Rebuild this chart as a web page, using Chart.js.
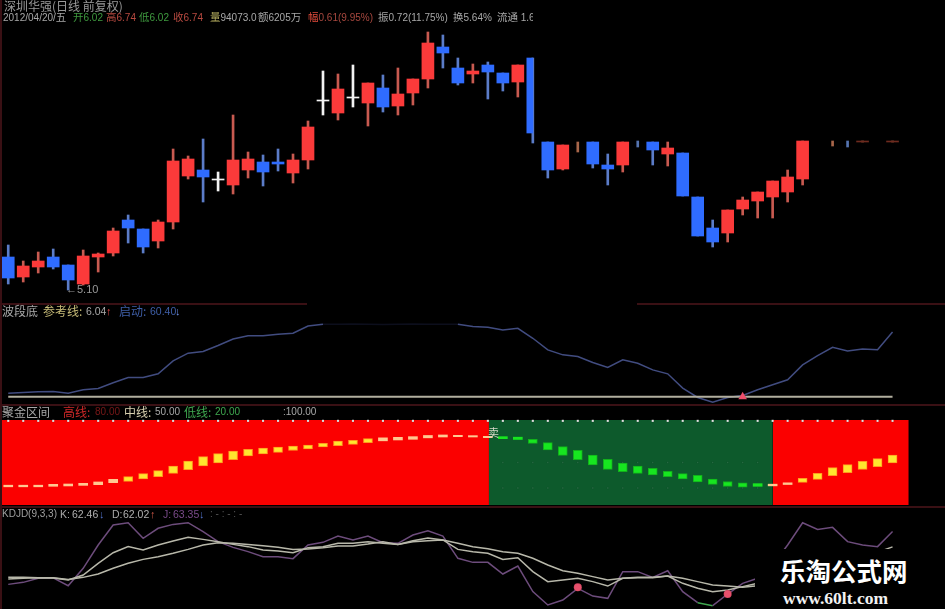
<!DOCTYPE html>
<html>
<head>
<meta charset="utf-8">
<title>深圳华强</title>
<script src="https://cdn.jsdelivr.net/npm/chart.js@4/dist/chart.umd.js"></script>
<style>
    html, body { margin: 0; padding: 0; background: #000; width: 945px; height: 609px; overflow: hidden; }
    #stage { position: relative; width: 945px; height: 609px; filter: blur(0.55px); font-family: "Liberation Sans", "Noto Sans CJK SC", sans-serif; font-size: 10px; color: #a8a8a8; }
    canvas { position: absolute; left: 0; display: block; }
    #priceChart { top: 0; }
    #waveChart { top: 305px; }
    #goldChart { top: 415px; }
    #kdjChart { top: 507px; }
    .rule { position: absolute; background: #3a1014; height: 2px; }
    .t { position: absolute; white-space: nowrap; line-height: 14px; z-index: 3; }
    .cn { font-family: "Noto Sans CJK SC", sans-serif; font-size: 12px; }
    .s { font-family: "Noto Sans CJK SC", sans-serif; font-size: 10.5px; }
    #mark { position: absolute; left: 755px; top: 549px; width: 190px; height: 60px; background: #000; z-index: 4; }
    #mark .name { position: absolute; left: 25px; top: 5px; font: bold 25.5px/32px "Noto Sans CJK SC", sans-serif; color: #fff; white-space: nowrap; }
    #mark .url { position: absolute; left: 28px; top: 39px; font: bold 17.5px/20px "Liberation Serif", serif; color: #f2f2f2; white-space: nowrap; }
</style>
</head>
<body>
<div id="stage">
    <canvas id="priceChart" width="945" height="305"></canvas>
    <canvas id="waveChart" width="945" height="99"></canvas>
    <canvas id="goldChart" width="945" height="95"></canvas>
    <canvas id="kdjChart" width="945" height="100"></canvas>

    <div class="rule" style="left:0;top:0;width:2px;height:609px"></div>
    <div class="rule" style="left:0;top:303px;width:307px"></div>
    <div class="rule" style="left:637px;top:303px;width:308px"></div>
    <div class="rule" style="left:0;top:404px;width:945px"></div>
    <div class="rule" style="left:0;top:506px;width:945px"></div>

    <span class="t cn" style="left:4px;top:-1px;color:#9a9a9a">深圳华强(日线 前复权)</span>
    <span class="t" style="left:3px;top:10px">2012/04/20/<span class="s">五</span></span>
    <span class="t" style="left:73px;top:10px;color:#3f9a3f"><span class="s">开</span>6.02</span>
    <span class="t" style="left:106px;top:10px;color:#b84a40"><span class="s">高</span>6.74</span>
    <span class="t" style="left:139px;top:10px;color:#3f9a3f"><span class="s">低</span>6.02</span>
    <span class="t" style="left:173px;top:10px;color:#b84a40"><span class="s">收</span>6.74</span>
    <span class="t" style="left:210px;top:10px"><span class="s" style="color:#b8b060">量</span>94073.0</span>
    <span class="t" style="left:258px;top:10px"><span class="s">额</span>6205<span class="s">万</span></span>
    <span class="t" style="left:308px;top:10px;color:#a8483f"><span class="s" style="color:#e04a3a">幅</span>0.61(9.95%)</span>
    <span class="t" style="left:378px;top:10px"><span class="s">振</span>0.72(11.75%)</span>
    <span class="t" style="left:453px;top:10px"><span class="s">换</span>5.64%</span>
    <span class="t" style="left:497px;top:10px;width:36px;overflow:hidden"><span class="s">流通</span> 1.6</span>
    <span class="t" style="left:66px;top:282px;color:#999;font-size:11px">←5.10</span>

    <span class="t cn" style="left:2px;top:304px;color:#a8a8a8">波段底</span>
    <span class="t cn" style="left:43px;top:304px;color:#c8bc78">参考线:</span>
    <span class="t" style="left:86px;top:304px;color:#a8a8a8;font-size:10.5px">6.04</span>
    <span class="t" style="left:106px;top:304px;color:#e04848;font-size:11px">↑</span>
    <span class="t cn" style="left:119px;top:304px;color:#3f5fa8">启动:</span>
    <span class="t" style="left:150px;top:304px;color:#3f5fa8;font-size:10.5px">60.40</span>
    <span class="t" style="left:175px;top:304px;color:#6f90e8;font-size:11px">↓</span>

    <span class="t cn" style="left:2px;top:405px;color:#a8a8a8">聚金区间</span>
    <span class="t cn" style="left:63px;top:405px;color:#d02828">高线:</span>
    <span class="t" style="left:95px;top:405px;color:#7a1818">80.00</span>
    <span class="t cn" style="left:124px;top:405px;color:#d8d0b0">中线:</span>
    <span class="t" style="left:155px;top:405px;color:#a8a8a8">50.00</span>
    <span class="t cn" style="left:184px;top:405px;color:#3fa84f">低线:</span>
    <span class="t" style="left:215px;top:405px;color:#3fa84f">20.00</span>
    <span class="t" style="left:283px;top:405px;color:#a8a8a8">:100.00</span>
    <span class="t cn" style="left:488px;top:425px;color:#d8d8c8;font-size:11px">卖</span>

    <span class="t" style="left:2px;top:507px;color:#a0a0a0">KDJD(9,3,3)</span>
    <span class="t" style="left:60px;top:507px;color:#a8a8a8;font-size:10.5px">K:</span>
    <span class="t" style="left:72px;top:507px;color:#b0b0b0;font-size:10.5px">62.46</span>
    <span class="t" style="left:99px;top:507px;color:#5070c8;font-size:11px">↓</span>
    <span class="t" style="left:112px;top:507px;color:#a8a8a8;font-size:10.5px">D:</span>
    <span class="t" style="left:123px;top:507px;color:#b0b0b0;font-size:10.5px">62.02</span>
    <span class="t" style="left:150px;top:507px;color:#d05848;font-size:11px">↑</span>
    <span class="t" style="left:163px;top:507px;color:#7a4a8a;font-size:10.5px">J:</span>
    <span class="t" style="left:173px;top:507px;color:#7a4a8a;font-size:10.5px">63.35</span>
    <span class="t" style="left:199px;top:507px;color:#5070c8;font-size:11px">↓</span>
    <span class="t" style="left:210px;top:507px;color:#555">: - : - : -</span>

    <div id="mark">
        <span class="name">乐淘公式网</span>
        <span class="url">www.60lt.com</span>
    </div>
</div>

<script>
// Daily candles, one slot per trading day
const opens = [5.58,5.38,5.48,5.58,5.50,5.31,5.58,5.62,5.95,5.86,5.74,5.93,6.39,6.45,6.36,6.30,6.45,6.53,6.53,6.42,6.55,7.15,7.02,7.18,7.12,7.27,7.09,7.22,7.36,7.68,7.47,7.41,7.50,7.42,7.33,7.57,6.73,6.46,null,6.73,6.50,6.50,null,6.73,6.61,6.62,6.18,5.87,5.82,6.06,6.14,6.18,6.23,6.36,null,null,null,6.73,null,6.73];
const closes = [5.37,5.49,5.54,5.48,5.35,5.59,5.61,5.84,5.87,5.68,5.93,6.54,6.56,6.38,6.35,6.55,6.56,6.43,6.51,6.55,6.88,7.14,7.26,7.17,7.32,7.08,7.21,7.36,7.72,7.62,7.32,7.44,7.43,7.32,7.50,6.82,6.45,6.70,null,6.51,6.46,6.73,null,6.65,6.67,6.19,5.79,5.73,6.05,6.15,6.23,6.34,6.38,6.74,null,null,null,6.74,null,6.74];
const highs = [5.70,5.54,5.63,5.66,5.50,5.65,5.62,5.87,6.00,5.86,5.95,6.66,6.59,6.76,6.43,7.00,6.63,6.60,6.66,6.61,6.94,7.44,7.41,7.50,7.32,7.40,7.47,7.36,7.83,7.80,7.57,7.51,7.53,7.42,7.50,7.57,6.73,6.70,6.73,6.73,6.61,6.73,6.74,6.73,6.73,6.62,6.18,5.95,6.05,6.18,6.23,6.34,6.45,6.74,null,6.74,6.74,6.74,null,6.74];
const lows = [5.31,5.33,5.42,5.46,5.25,5.30,5.43,5.59,5.72,5.62,5.67,5.86,6.36,6.13,6.24,6.21,6.37,6.29,6.44,6.32,6.46,7.00,6.95,7.08,6.89,7.03,7.00,7.10,7.27,7.47,7.30,7.32,7.16,7.24,7.18,6.72,6.37,6.45,6.63,6.47,6.30,6.43,6.68,6.50,6.49,6.19,5.79,5.68,5.73,6.00,5.97,5.97,6.13,6.30,null,6.69,6.68,6.73,null,6.73];
const dojiDays = [14, 21, 23];
const faintDays = [38, 42, 55, 56, 57, 59];
const fallingTicks = [42, 56];
const halfBodyDays = [35];

// 波段底 pane
const startLine = [9.1,9.7,10.2,10.5,9.1,11.9,13.0,17.8,22.2,22.2,25.3,36.2,42.6,44.0,49.0,54.5,57.3,57.3,58.5,59.3,65.4,66.8,66.9,67.0,66.8,66.7,66.9,67.0,66.8,66.8,66.8,64.9,64.3,62.1,63.5,55.1,45.4,41.2,39.8,34.8,30.6,37.0,34.2,28.6,25.3,13.3,5.5,1.6,5.5,7.2,11.9,16.1,20.3,32.8,40.6,47.6,44.5,46.2,45.4,60.4];
const referenceLine = 6.04;
const waveSignals = [49];

// 聚金区间 pane
const zoneStarts = [-0.55, 32.07, 51.01];
const zoneEnds = [32.07, 51.01, 60.08];
const goldLow = [21.4,21.4,21.4,22.0,22.4,23.1,23.9,26.3,27.8,30.6,33.3,37.3,41.6,45.9,49.4,53.3,57.6,60.0,62.0,64.1,66.1,68.4,69.8,71.4,73.3,75.5,76.5,77.3,79.0,80.0,80.4,80.0,79.2,78.0,77.1,72.5,64.7,58.4,53.3,47.1,42.0,39.2,37.3,35.3,33.3,30.6,27.1,24.3,21.8,21.0,22.0,22.5,24.1,26.7,30.2,34.5,38.0,42.0,45.1,49.4];
const goldHigh = [23.3,23.3,23.3,24.3,24.7,25.5,27.1,30.2,33.3,36.9,40.4,45.9,51.8,56.9,60.4,63.5,65.5,67.1,68.2,69.2,70.4,72.7,75.3,76.1,78.0,79.0,79.6,80.4,81.8,82.4,82.0,81.6,80.8,80.4,79.8,77.3,73.3,68.6,64.3,58.8,53.7,49.4,45.9,43.1,39.6,36.9,35.0,30.6,27.6,26.1,25.1,24.5,26.1,31.4,37.3,43.9,47.5,51.4,54.5,58.8];
const topLevel = 100;
const dotLevel = 99;
const midLevel = 50;
const lowLevel = 20;
const greenDays = [33,34,35,36,37,38,39,40,41,42,43,44,45,46,47,48,49,50];

// KDJ pane
const kLine = [23.5,24.1,24.6,24.4,22.7,26.9,36.7,45.6,50.7,47.9,52.1,55.4,58.5,56.8,54.9,52.6,50.7,47.9,47.0,45.6,49.8,50.7,53.5,53.5,54.9,53.5,52.6,55.7,58.0,56.3,48.4,46.5,45.1,40.0,41.4,29.7,21.3,22.7,24.1,21.3,17.6,24.1,24.9,24.9,26.0,19.9,15.7,12.9,14.3,17.1,19.9,24.1,32.5,42.0,45.0,46.0,46.0,46.0,46.0,50.5];
const dLine = [24.9,24.9,24.6,24.6,23.2,24.9,27.7,32.5,36.7,40.0,42.3,45.1,48.4,52.1,54.0,53.5,52.6,51.5,50.1,48.4,48.7,49.8,51.2,51.2,52.9,54.9,52.6,54.9,55.7,56.3,53.5,50.7,49.0,46.5,45.1,40.9,35.3,30.5,28.3,25.5,22.7,24.1,24.6,24.6,26.0,24.1,21.3,18.5,17.6,16.5,17.9,19.3,22.7,28.3,33.9,38.1,40.9,42.3,44.0,47.0];
const jLine = [19.0,20.7,24.1,24.4,17.9,32.5,52.1,68.9,70.8,57.7,66.1,69.4,70.8,63.3,54.9,50.1,46.5,42.3,42.3,40.6,52.1,54.3,59.6,56.3,59.6,54.0,53.5,60.5,64.1,59.6,40.9,37.5,37.5,27.7,34.4,12.9,1.7,5.9,15.7,9.2,7.3,29.7,29.7,24.9,30.5,12.9,3.6,1.1,10.9,19.9,24.1,35.3,52.1,70.8,65.2,66.9,54.9,52.1,50.7,63.35];
const kdjSignals = [38, 48];
const kdjSignalValues = [16.5, 10.9];

const days = opens.map((_, i) => i);

function pairs(xs, ys) {
    return xs.map((x, i) => ({ x: x, y: ys[i] }));
}

function ranges(from, to) {
    return days
        .filter(i => from[i] !== null && to[i] !== null)
        .map(i => ({ x: i, y: [from[i], to[i]] }));
}

function makeChart(id, datasets, yMin, yMax, padding) {
    return new Chart(document.getElementById(id).getContext('2d'), {
        type: 'bar',
        data: { datasets: datasets },
        options: {
            responsive: false,
            animation: false,
            devicePixelRatio: 1,
            layout: { autoPadding: false, padding: padding || 0 },
            plugins: { legend: { display: false }, tooltip: { enabled: false } },
            scales: {
                x: { type: 'linear', offset: false, min: -0.55, max: 62.5, display: false },
                y: { min: yMin, max: yMax, display: false }
            }
        }
    });
}

function bodyColor(ctx) {
    const i = ctx.raw.x;
    if (dojiDays.includes(i)) return '#f2f2f2';
    if (faintDays.includes(i)) return '#6e2a1e';
    return closes[i] > opens[i] ? '#fb3a3a' : '#2f6cff';
}

function wickColor(ctx) {
    const i = ctx.raw.x;
    if (dojiDays.includes(i)) return '#f2f2f2';
    if (fallingTicks.includes(i)) return '#5574b0';
    if (faintDays.includes(i)) return '#a8664a';
    return closes[i] > opens[i] ? '#c85a50' : '#5b7cc8';
}

const regularDays = days.filter(i => !halfBodyDays.includes(i) && opens[i] !== null);

makeChart('priceChart', [
    {
        label: 'body',
        data: regularDays.map(i => ({ x: i, y: [opens[i], closes[i]] })),
        grouped: false, barThickness: 12, minBarLength: 1, backgroundColor: bodyColor, order: 1
    },
    {
        // the tall falling day is cut in half by the terminal, body only left of its wick
        label: 'half body',
        data: halfBodyDays.map(i => ({ x: i - 0.2, y: [opens[i], closes[i]] })),
        grouped: false, barThickness: 6, backgroundColor: '#2f6cff', order: 1
    },
    {
        label: 'wick',
        data: ranges(lows, highs),
        grouped: false, barThickness: 2, backgroundColor: wickColor, order: 2
    }
], 5.10, 8.15);

makeChart('waveChart', [
    {
        type: 'line', label: 'signal',
        data: waveSignals.map(i => ({ x: i, y: referenceLine })),
        showLine: false, pointStyle: 'triangle', pointRadius: 5, backgroundColor: '#f0506c', order: 1
    },
    {
        type: 'line', label: '启动',
        data: pairs(days, startLine),
        borderColor: '#414c80', borderWidth: 1.5, pointRadius: 0, tension: 0, order: 3,
        // stretch under the top of the pane is nearly invisible on the original
        segment: { borderColor: ctx => (ctx.p0DataIndex >= 21 && ctx.p0DataIndex < 30 ? '#0c0e1c' : undefined) }
    },
    {
        type: 'line', label: '参考线',
        data: pairs(days, days.map(() => referenceLine)),
        borderColor: '#b2af9f', borderWidth: 2, pointRadius: 0, order: 2
    }
], 0, 83);

makeChart('goldChart', [
    {
        label: 'gold',
        data: ranges(goldLow, goldHigh),
        grouped: false, barThickness: 9,
        backgroundColor: ctx => {
            if (greenDays.includes(ctx.raw.x)) return '#17e620';
            return goldHigh[ctx.raw.x] - goldLow[ctx.raw.x] < 4 ? '#ffc890' : '#ffe62e';
        },
        borderColor: ctx => (greenDays.includes(ctx.raw.x) ? '#12b01c' : '#ff9a20'),
        borderWidth: ctx => (goldHigh[ctx.raw.x] - goldLow[ctx.raw.x] < 4 ? 0 : 1),
        borderSkipped: false, order: 1
    },
    {
        type: 'line', label: '100.00',
        data: pairs(days, days.map(() => dotLevel)),
        showLine: false, pointStyle: 'rect', pointRadius: 1.5, backgroundColor: '#eeeeee', clip: false, order: 2
    },
    {
        type: 'line', label: '中线',
        data: pairs(greenDays, greenDays.map(() => midLevel)),
        showLine: false, pointStyle: 'rect', pointRadius: 1, backgroundColor: '#2c7a4c', order: 3
    },
    {
        type: 'line', label: '低线',
        data: pairs(greenDays, greenDays.map(() => lowLevel)),
        showLine: false, pointStyle: 'rect', pointRadius: 1, backgroundColor: '#2c7a4c', order: 3
    },
    {
        type: 'line', label: 'zone up',
        data: pairs([zoneStarts[0], zoneEnds[0]], [topLevel, topLevel]),
        fill: 'start', backgroundColor: '#fb0000', borderWidth: 0, pointRadius: 0, order: 5
    },
    {
        type: 'line', label: 'zone down',
        data: pairs([zoneStarts[1], zoneEnds[1]], [topLevel, topLevel]),
        fill: 'start', backgroundColor: '#0d5a2c', borderWidth: 0, pointRadius: 0, order: 5
    },
    {
        type: 'line', label: 'zone up again',
        data: pairs([zoneStarts[2], zoneEnds[2]], [topLevel, topLevel]),
        fill: 'start', backgroundColor: '#fb0000', borderWidth: 0, pointRadius: 0, order: 5
    }
], 0, 100, { top: 5, bottom: 5 });

makeChart('kdjChart', [
    {
        type: 'line', label: 'signal',
        data: pairs(kdjSignals, kdjSignalValues),
        showLine: false, pointStyle: 'circle', pointRadius: 4, backgroundColor: '#e8506c', order: 1
    },
    {
        type: 'line', label: 'K',
        data: pairs(days, kLine),
        borderColor: '#b8b8aa', borderWidth: 1.5, pointRadius: 0, order: 2
    },
    {
        type: 'line', label: 'D',
        data: pairs(days, dLine),
        borderColor: '#b8b8aa', borderWidth: 1.5, pointRadius: 0, order: 3
    },
    {
        type: 'line', label: 'J',
        data: pairs(days, jLine),
        borderColor: '#6d4c7c', borderWidth: 1.5, pointRadius: 0, order: 4,
        segment: { borderColor: ctx => (ctx.p0DataIndex === 46 ? '#3fa84f' : undefined) }
    }
], 0, 84);
</script>
</body>
</html>
